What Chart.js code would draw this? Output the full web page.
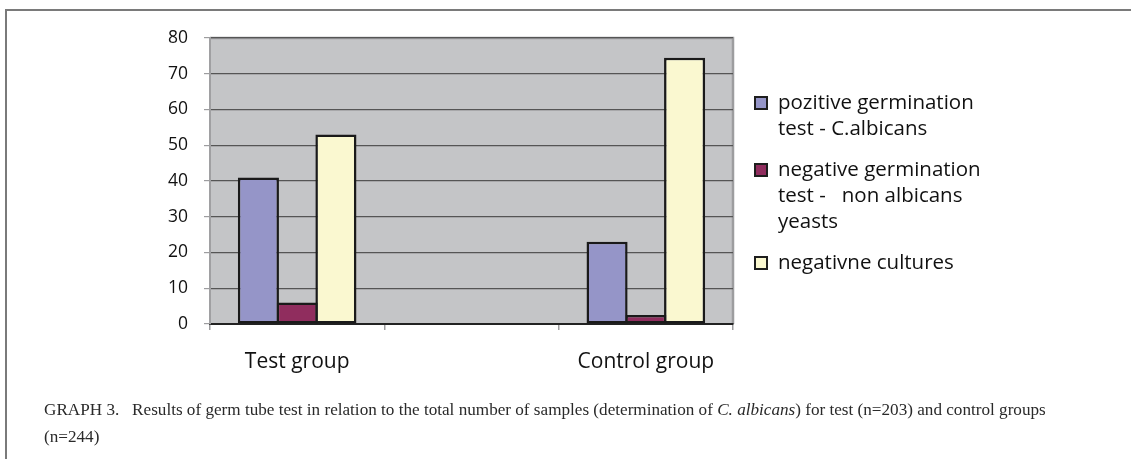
<!DOCTYPE html>
<html>
<head>
<meta charset="utf-8">
<script src="https://cdn.jsdelivr.net/npm/chart.js@4.4.1/dist/chart.umd.min.js"></script>
<style>
  html, body { margin: 0; padding: 0; background: #fff; }
  #wrap { position: relative; width: 1131px; height: 459px; overflow: hidden; }
  #frame { position: absolute; left: 5px; top: 9px; width: 1130px; height: 460px;
           border-left: 2px solid #7a7a7a; border-top: 2px solid #7a7a7a; box-sizing: border-box; }
  #chartBox { position: absolute; left: 0; top: 0; width: 1131px; height: 459px; }
  #caption { position: absolute; left: 44px; top: 396px; font-family: "Liberation Serif", serif;
             font-size: 17.15px; line-height: 27px; color: #2a2a2a; white-space: nowrap; }
</style>
</head>
<body>
<div id="wrap">
  <div id="frame"></div>
  <div id="chartBox"><canvas id="c"></canvas></div>
  <div id="caption">GRAPH 3.&nbsp;&nbsp; Results of germ tube test in relation to the total number of samples (determination of <i>C. albicans</i>) for test (n=203) and control groups<br>(n=244)</div>
</div>
<script>
// Groups on the x axis (the middle slot is left empty as a spacer)
const categories = ['Test group', '', 'Control group'];

// Percent of samples per outcome
const positiveGermination = [41, null, 23];
const negativeGermination = [6, null, 2.5];
const negativeCultures = [53, null, 74.5];

// Legend text, one entry per series, split into lines
const seriesNames = [
  ['pozitive germination', 'test - C.albicans'],
  ['negative germination', 'test -   non albicans', 'yeasts'],
  ['negativne cultures']
];

const yTicks = [0, 10, 20, 30, 40, 50, 60, 70, 80];

const seriesColors = ['#9595c8', '#902d5e', '#faf8d0'];

// Grey plot background plus a light border along the top and right
const plotBackground = {
  id: 'plotBackground',
  beforeDraw(chart) {
    const { ctx, chartArea: a } = chart;
    ctx.save();
    ctx.fillStyle = '#c4c5c7';
    ctx.fillRect(a.left, a.top, a.right - a.left, a.bottom - a.top);
    ctx.strokeStyle = '#9d9d9f';
    ctx.lineWidth = 2.5;
    ctx.beginPath();
    ctx.moveTo(a.left, a.top);
    ctx.lineTo(a.right, a.top);
    ctx.lineTo(a.right, a.bottom);
    ctx.stroke();
    ctx.restore();
  }
};

// Legend to the right of the plot, with wrapped labels
const sideLegend = {
  id: 'sideLegend',
  afterDraw(chart) {
    const { ctx, chartArea: a } = chart;
    const boxX = a.right + 22;
    const textX = a.right + 45;
    const lineH = 26;
    const gap = 15;
    let y = 103;
    ctx.save();
    ctx.font = '20.5px "Open Sans", sans-serif';
    ctx.textBaseline = 'middle';
    chart.data.datasets.forEach((ds, i) => {
      ctx.fillStyle = ds.backgroundColor;
      ctx.fillRect(boxX, y - 6, 12, 12);
      ctx.strokeStyle = '#1e1e1e';
      ctx.lineWidth = 2;
      ctx.strokeRect(boxX, y - 6, 12, 12);
      ctx.fillStyle = '#111';
      seriesNames[i].forEach((line, k) => {
        ctx.fillText(line, textX, y + k * lineH);
      });
      y += seriesNames[i].length * lineH + gap;
    });
    ctx.restore();
  }
};

const makeSet = (i, data) => ({
  label: seriesNames[i].join(' '),
  data,
  backgroundColor: seriesColors[i],
  borderColor: '#1a1a1a',
  borderWidth: 2.5,
  borderSkipped: false,
  categoryPercentage: 0.667,
  barPercentage: 1.06
});

new Chart(document.getElementById('c'), {
  type: 'bar',
  data: {
    labels: categories,
    datasets: [
      makeSet(0, positiveGermination),
      makeSet(1, negativeGermination),
      makeSet(2, negativeCultures)
    ]
  },
  options: {
    responsive: true,
    maintainAspectRatio: false,
    animation: false,
    layout: { padding: { left: 150, right: 398, top: 38, bottom: 85 } },
    plugins: {
      legend: { display: false },
      tooltip: { enabled: false }
    },
    scales: {
      x: {
        afterFit(scale) { scale.height = 50; },
        grid: { drawOnChartArea: false, drawTicks: true, tickLength: 6, color: '#9d9d9f', lineWidth: 1.5 },
        border: { display: true, color: '#222', width: 2 },
        ticks: { color: '#111', font: { family: '"Open Sans", sans-serif', size: 21 }, padding: 19, maxRotation: 0 }
      },
      y: {
        min: 0,
        max: 80,
        afterFit(scale) { scale.width = 60; },
        afterBuildTicks(scale) { scale.ticks = yTicks.map(v => ({ value: v })); },
        grid: { color: '#555', lineWidth: 1.2, drawTicks: true, tickLength: 6, tickColor: '#9d9d9f' },
        border: { display: true, color: '#a0a0a2', width: 2 },
        ticks: { color: '#111', font: { family: '"Open Sans", sans-serif', size: 17.5 }, padding: 16 }
      }
    }
  },
  plugins: [plotBackground, sideLegend]
});
</script>
</body>
</html>
